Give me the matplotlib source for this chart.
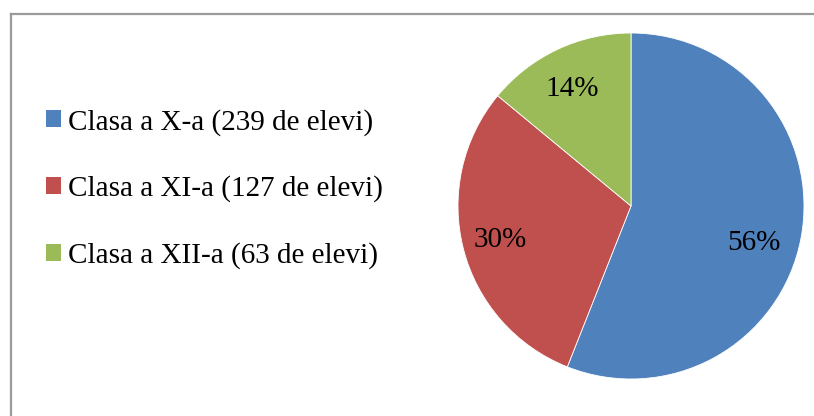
import matplotlib
matplotlib.use("Agg")
import matplotlib.pyplot as plt
from matplotlib.patches import Patch
from matplotlib.lines import Line2D
import numpy as np

categories = ["Clasa a X-a (239 de elevi)", "Clasa a XI-a (127 de elevi)", "Clasa a XII-a (63 de elevi)"]
percentages = [56, 30, 14]
colors = ["#4F81BD", "#C0504D", "#9BBB59"]
label_dist = [0.74, 0.78, 0.76]
label_angle_offset = [-6, 0, 1.5]

plt.rcParams['font.family'] = ['Liberation Serif', 'DejaVu Serif']

W, H = 814, 416
fig = plt.figure(figsize=(W / 100, H / 100), dpi=100)

# outer border (top and left visible)
fig.add_artist(Line2D([11 / W, 11 / W], [0, 1 - 14 / H], transform=fig.transFigure, color="#9a9a9a", lw=1.6))
fig.add_artist(Line2D([11 / W, 1], [1 - 14 / H, 1 - 14 / H], transform=fig.transFigure, color="#9a9a9a", lw=1.6))

cx, cy, r = 631, 206, 173
ax = fig.add_axes([(cx - r) / W, (H - cy - r) / H, 2 * r / W, 2 * r / H])
wedges, _ = ax.pie(percentages, colors=colors, startangle=90, counterclock=False,
                   radius=1, wedgeprops=dict(edgecolor="white", linewidth=0.6))
ax.set_xlim(-1, 1)
ax.set_ylim(-1, 1)
ax.set_aspect("equal")
ax.axis("off")

for w, p, d, off in zip(wedges, percentages, label_dist, label_angle_offset):
    ang = np.deg2rad((w.theta1 + w.theta2) / 2 + off)
    ax.text(d * np.cos(ang), d * np.sin(ang), f"{p}%", ha="center", va="center", fontsize=21)

handles = [Patch(facecolor=c, edgecolor="none") for c in colors]
fig.legend(handles, categories, loc="center left", bbox_to_anchor=(46 / W, 1 - 189 / H),
           frameon=False, fontsize=21, handlelength=0.51, handleheight=0.51,
           handletextpad=0.24, labelspacing=1.37, borderpad=0, borderaxespad=0)

fig.savefig("out.png", dpi=100)
